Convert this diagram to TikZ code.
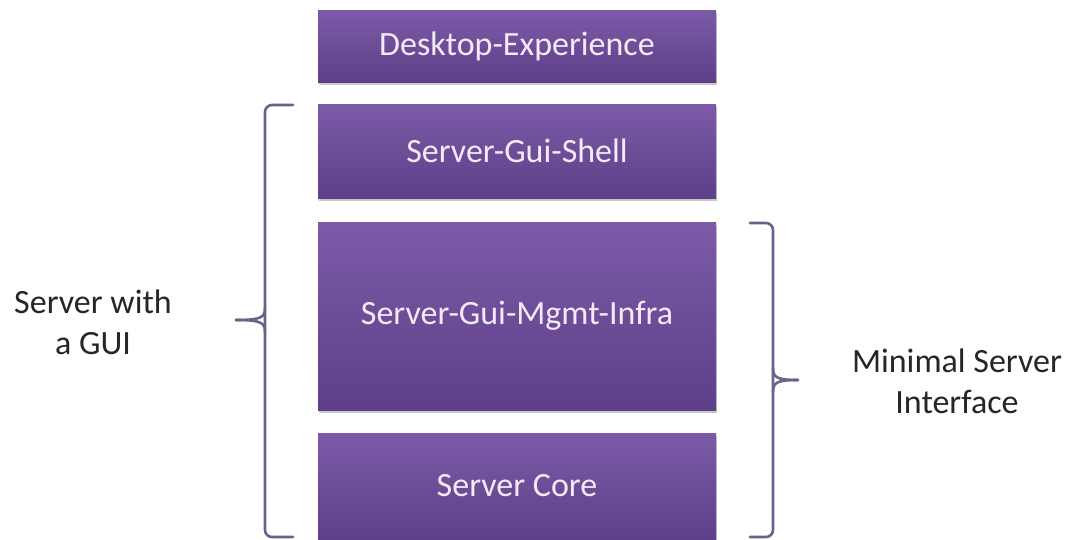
\documentclass[tikz,border=0pt]{standalone}
\usepackage{fontspec}
\setmainfont{Carlito}
\usetikzlibrary{shadows}
\definecolor{boxtop}{HTML}{7C5AA8}
\definecolor{boxbot}{HTML}{5E3F88}
\definecolor{bracecol}{HTML}{6A628C}
\definecolor{boxtext}{HTML}{F2EAF6}
\definecolor{labeltext}{HTML}{262626}
\begin{document}
\begin{tikzpicture}[x=1pt,y=-1pt,
  layer/.style={rectangle, inner sep=0pt, outer sep=0pt,
    top color=boxtop, bottom color=boxbot, text=boxtext,
    font=\fontsize{34}{40}\selectfont, minimum width=398pt,
    drop shadow={shadow xshift=1pt, shadow yshift=-2.5pt, opacity=0.35, fill=black!60}},
  sidelabel/.style={align=center, text=labeltext, inner sep=0pt,
    font=\fontsize{34}{41}\selectfont},
  bracestyle/.style={draw=bracecol, line width=2.6pt, rounded corners=7pt, line cap=round}
]
\fill[white] (0,0) rectangle (1070,539);
\useasboundingbox (0,0) rectangle (1070,539);

\node[layer, minimum height=72pt]  (desk)  at (517,46)  {Desktop-Experience};
\node[layer, minimum height=94pt]  (shell) at (517,151) {Server-Gui-Shell};
\node[layer, minimum height=188pt] (mgmt)  at (517,316) {Server-Gui-Mgmt-Infra};
\node[layer, minimum height=106pt] (core)  at (517,486) {Server Core};

% left brace
\draw[bracestyle] (293,105) -- (265,105) -- (265,537) -- (293,537);
\draw[bracestyle, rounded corners=0pt] (265,308) .. controls (265,317) and (262,320) .. (236,320);
\draw[bracestyle, rounded corners=0pt] (265,332) .. controls (265,323) and (262,320) .. (236,320);
% right brace
\draw[bracestyle] (750,223) -- (773,223) -- (773,537) -- (750,537);
\draw[bracestyle, rounded corners=0pt] (773,368) .. controls (773,377) and (776,380) .. (798,380);
\draw[bracestyle, rounded corners=0pt] (773,392) .. controls (773,383) and (776,380) .. (798,380);

\node[sidelabel] (gui) at (93,322) {Server with\\a GUI};
\node[sidelabel] (min) at (957,381) {Minimal Server\\Interface};
\end{tikzpicture}
\end{document}
